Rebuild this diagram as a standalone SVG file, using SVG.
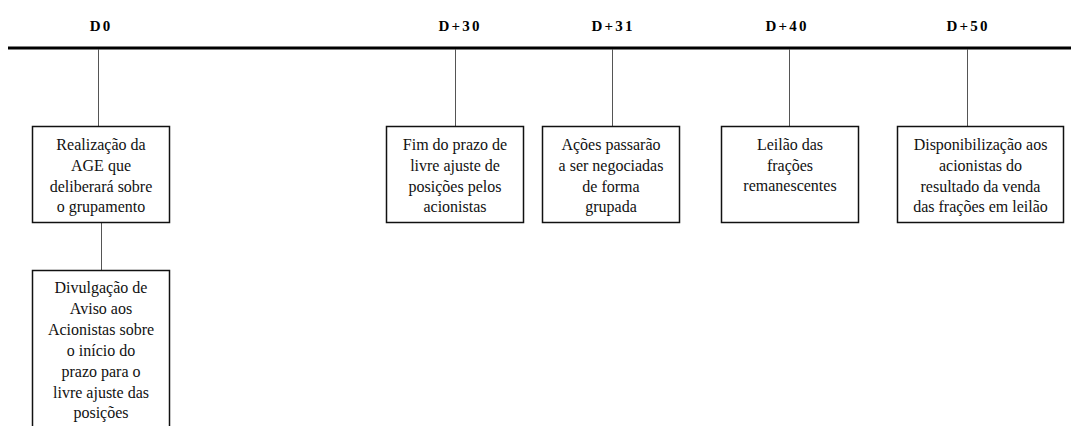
<svg xmlns="http://www.w3.org/2000/svg" width="1071" height="426" viewBox="0 0 1071 426" font-family="Liberation Serif, DejaVu Serif, serif">
<style>
.lbl{font-size:15px;font-weight:bold;fill:#000;text-anchor:middle;letter-spacing:2.2px}
.t{font-size:16px;fill:#111;text-anchor:middle}
.box{fill:#fff;stroke:#111;stroke-width:1.5}
.conn{stroke:#555;stroke-width:1;fill:none}
</style>
<rect width="1071" height="426" fill="#fff"/>
<g id="timeline" font-family="Liberation Serif, serif">
<line x1="8" y1="48" x2="1071" y2="48" stroke="#000" stroke-width="3"/>
<text class="lbl" x="101" y="31">D0</text>
<text class="lbl" x="460" y="31">D+30</text>
<text class="lbl" x="613" y="31">D+31</text>
<text class="lbl" x="787" y="31">D+40</text>
<text class="lbl" x="968" y="31">D+50</text>
</g>
<g id="connectors">
<line class="conn" x1="98.5" y1="49" x2="98.5" y2="126"/>
<line class="conn" x1="101.5" y1="223" x2="101.5" y2="270"/>
<line class="conn" x1="455.5" y1="49" x2="455.5" y2="126"/>
<line class="conn" x1="612.5" y1="49" x2="612.5" y2="126"/>
<line class="conn" x1="789.5" y1="49" x2="789.5" y2="126"/>
<line class="conn" x1="967.5" y1="49" x2="967.5" y2="126"/>
</g>
<g id="node-d0" font-family="Liberation Serif, serif">
<rect class="box" x="32.5" y="126.5" width="137" height="96"/>
<text class="t" x="101" y="150">Realização da</text>
<text class="t" x="101" y="171">AGE que</text>
<text class="t" x="101" y="192">deliberará sobre</text>
<text class="t" x="101" y="212">o grupamento</text>
</g>
<g id="node-d0-aviso" font-family="Liberation Serif, serif">
<rect class="box" x="32.5" y="270.5" width="137" height="170"/>
<text class="t" x="101" y="293">Divulgação de</text>
<text class="t" x="101" y="314">Aviso aos</text>
<text class="t" x="101" y="335">Acionistas sobre</text>
<text class="t" x="101" y="356">o início do</text>
<text class="t" x="101" y="377">prazo para o</text>
<text class="t" x="101" y="398">livre ajuste das</text>
<text class="t" x="101" y="418">posições</text>
</g>
<g id="node-d30" font-family="Liberation Serif, serif">
<rect class="box" x="386.5" y="126.5" width="137" height="96"/>
<text class="t" x="455" y="150">Fim do prazo de</text>
<text class="t" x="455" y="171">livre ajuste de</text>
<text class="t" x="455" y="192">posições pelos</text>
<text class="t" x="455" y="212">acionistas</text>
</g>
<g id="node-d31" font-family="Liberation Serif, serif">
<rect class="box" x="542.5" y="126.5" width="137" height="96"/>
<text class="t" x="611" y="150">Ações passarão</text>
<text class="t" x="611" y="171">a ser negociadas</text>
<text class="t" x="611" y="192">de forma</text>
<text class="t" x="611" y="212">grupada</text>
</g>
<g id="node-d40" font-family="Liberation Serif, serif">
<rect class="box" x="721.5" y="126.5" width="137" height="96"/>
<text class="t" x="790" y="150">Leilão das</text>
<text class="t" x="790" y="171">frações</text>
<text class="t" x="790" y="191">remanescentes</text>
</g>
<g id="node-d50" font-family="Liberation Serif, serif">
<rect class="box" x="897.5" y="126.5" width="166" height="96"/>
<text class="t" x="980.5" y="150">Disponibilização aos</text>
<text class="t" x="980.5" y="171">acionistas do</text>
<text class="t" x="980.5" y="192">resultado da venda</text>
<text class="t" x="980.5" y="212">das frações em leilão</text>
</g>
</svg>
